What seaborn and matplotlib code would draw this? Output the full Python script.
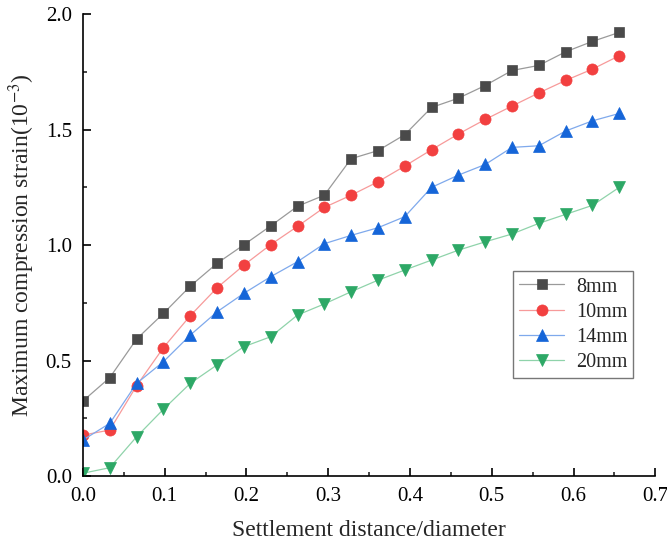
import matplotlib
matplotlib.use("Agg")
import matplotlib.pyplot as plt
import seaborn as sns
import pandas as pd
from matplotlib.ticker import MultipleLocator

# settlement distance / diameter
ratio = [0.0, 0.0328, 0.0656, 0.0984, 0.1312, 0.164, 0.1968, 0.2296, 0.2624,
         0.2952, 0.328, 0.3608, 0.3936, 0.4264, 0.4592, 0.492, 0.5248,
         0.5576, 0.5904, 0.6232, 0.656]

# maximum compression strain (1e-3)
strain_8mm = [0.325, 0.426, 0.593, 0.704, 0.822, 0.921, 1.001, 1.083, 1.168,
              1.216, 1.374, 1.409, 1.478, 1.596, 1.636, 1.691, 1.756, 1.778,
              1.837, 1.882, 1.921]
strain_10mm = [0.177, 0.199, 0.391, 0.556, 0.694, 0.815, 0.913, 1.002, 1.081,
               1.163, 1.216, 1.274, 1.342, 1.413, 1.481, 1.544, 1.602, 1.659,
               1.713, 1.762, 1.820]
strain_14mm = [0.156, 0.228, 0.401, 0.495, 0.610, 0.711, 0.791, 0.863, 0.928,
               1.006, 1.042, 1.075, 1.123, 1.250, 1.303, 1.349, 1.423, 1.430,
               1.494, 1.538, 1.570]
strain_20mm = [0.012, 0.036, 0.170, 0.289, 0.401, 0.481, 0.560, 0.603, 0.697,
               0.745, 0.798, 0.848, 0.892, 0.935, 0.978, 1.014, 1.048, 1.094,
               1.133, 1.172, 1.250]

labels = ["8mm", "10mm", "14mm", "20mm"]
series = [strain_8mm, strain_10mm, strain_14mm, strain_20mm]
markers = ["s", "o", "^", "v"]
marker_sizes = [7, 8, 9, 9]
marker_colors = ["#4a4a4a", "#f24040", "#1565d8", "#2da866"]
line_colors = ["#9a9a9a", "#f79a9a", "#7fa9ec", "#8fd3aa"]

sns.set_style("ticks")
plt.rcParams["font.family"] = ["Liberation Serif", "DejaVu Serif"]
plt.rcParams["mathtext.fontset"] = "stix"

fig = plt.figure(figsize=(6.67, 5.44), dpi=100)
ax = fig.add_axes([0.1244, 0.125, 0.858, 0.849])

for lab, ys, mk, ms, mc, lc in zip(labels, series, markers, marker_sizes,
                                   marker_colors, line_colors):
    df = pd.DataFrame({"ratio": ratio, "strain": ys})
    sns.lineplot(data=df, x="ratio", y="strain", ax=ax, label=lab,
                 color=lc, linewidth=0.9, marker=mk, markersize=ms)
    line = ax.lines[-1]
    line.set_markerfacecolor(mc)
    line.set_markeredgecolor(mc)
    line.set_markeredgewidth(0.5)

ax.set_xlim(0, 0.7)
ax.set_ylim(0, 2.0)
ax.xaxis.set_major_locator(MultipleLocator(0.1))
ax.xaxis.set_minor_locator(MultipleLocator(0.05))
ax.yaxis.set_major_locator(MultipleLocator(0.5))
ax.yaxis.set_minor_locator(MultipleLocator(0.25))
ax.xaxis.set_major_formatter(lambda v, p: f"{v:.1f}")
ax.yaxis.set_major_formatter(lambda v, p: f"{v:.1f}")

for s in ["top", "right"]:
    ax.spines[s].set_visible(False)
for s in ["left", "bottom"]:
    ax.spines[s].set_linewidth(1.2)
    ax.spines[s].set_color("black")

ax.tick_params(which="major", direction="in", length=6, width=1.2,
               labelsize=15, pad=8, colors="black")
ax.tick_params(which="minor", direction="in", length=3, width=1.2)

ax.set_xlabel("Settlement distance/diameter", fontsize=17, labelpad=10)
ax.set_ylabel("Maximum compression strain(10$^{-3}$)", fontsize=17,
              labelpad=6)

leg = ax.legend(loc="upper left", bbox_to_anchor=(0.752, 0.443),
                borderaxespad=0, fontsize=14.5, frameon=True, fancybox=False,
                handlelength=2.2, borderpad=0.3, labelspacing=0.3,
                handletextpad=0.6)
leg.get_frame().set_edgecolor("#777777")
leg.get_frame().set_linewidth(1.0)
leg.get_frame().set_alpha(1)

fig.savefig("out.png", dpi=100)
